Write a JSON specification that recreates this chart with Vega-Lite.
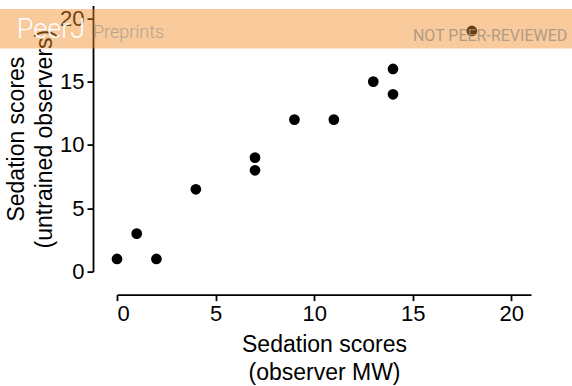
{
  "$schema": "https://vega.github.io/schema/vega-lite/v6.json",
  "width": 414,
  "height": 266,
  "autosize": {"type": "none"},
  "padding": {"left": 117, "top": 5.6, "right": 41, "bottom": 114.4},
  "background": "white",
  "config": {
    "view": {"stroke": null},
    "font": "Liberation Sans",
    "axis": {
      "grid": false,
      "domainColor": "black",
      "domainWidth": 1.8,
      "tickColor": "black",
      "tickWidth": 1.8,
      "tickSize": 6,
      "labelFont": "Liberation Sans",
      "labelFontSize": 22,
      "labelColor": "black",
      "labelPadding": 3,
      "titleFont": "Liberation Sans",
      "titleFontSize": 23,
      "titleFontWeight": "normal",
      "titleColor": "black",
      "titleLineHeight": 28
    }
  },
  "layer": [
    {
      "data": {
        "values": [
          {"observer_mw": 0, "untrained": 1},
          {"observer_mw": 1, "untrained": 3},
          {"observer_mw": 2, "untrained": 1},
          {"observer_mw": 4, "untrained": 6.5},
          {"observer_mw": 7, "untrained": 9},
          {"observer_mw": 7, "untrained": 8},
          {"observer_mw": 9, "untrained": 12},
          {"observer_mw": 11, "untrained": 12},
          {"observer_mw": 13, "untrained": 15},
          {"observer_mw": 14, "untrained": 16},
          {"observer_mw": 14, "untrained": 14},
          {"observer_mw": 18, "untrained": 19}
        ]
      },
      "mark": {"type": "circle", "size": 115, "color": "black", "opacity": 1},
      "encoding": {
        "x": {
          "field": "observer_mw",
          "type": "quantitative",
          "scale": {"domain": [0, 21], "nice": false, "zero": false},
          "axis": {"values": [0, 5, 10, 15, 20], "offset": 23, "title": ["Sedation scores", "(observer MW)"], "titlePadding": 9}
        },
        "y": {
          "field": "untrained",
          "type": "quantitative",
          "scale": {"domain": [0, 21], "nice": false, "zero": false},
          "axis": {"values": [0, 5, 10, 15, 20], "offset": 24, "title": ["Sedation scores", "(untrained observers)"], "titlePadding": 3}
        }
      }
    },
    {
      "data": {"values": [{"label": "banner"}]},
      "mark": {"type": "rect", "color": "#F08A24", "opacity": 0.45, "clip": false},
      "encoding": {
        "x": {"datum": -6},
        "x2": {"datum": 23.3},
        "y": {"datum": 17.62},
        "y2": {"datum": 20.73}
      }
    },
    {
      "data": {"values": [{"label": "PeerJ"}]},
      "mark": {"type": "text", "color": "white", "font": "Roboto", "fontWeight": 300, "fontSize": 27, "align": "left", "baseline": "alphabetic", "clip": false},
      "encoding": {
        "x": {"datum": -5.08},
        "y": {"datum": 18.45},
        "text": {"field": "label"}
      }
    },
    {
      "data": {"values": [{"label": "Preprints"}]},
      "mark": {"type": "text", "color": "#a89a8c", "opacity": 0.8, "font": "Roboto", "fontWeight": 300, "fontSize": 18, "align": "left", "baseline": "alphabetic", "clip": false},
      "encoding": {
        "x": {"datum": -1.22},
        "y": {"datum": 18.45},
        "text": {"field": "label"}
      }
    },
    {
      "data": {"values": [{"label": "NOT PEER-REVIEWED"}]},
      "mark": {"type": "text", "color": "#a09080", "opacity": 0.8, "font": "Roboto", "fontWeight": 400, "fontSize": 16, "align": "right", "baseline": "alphabetic", "clip": false},
      "encoding": {
        "x": {"datum": 22.84},
        "y": {"datum": 18.2},
        "text": {"field": "label"}
      }
    }
  ]
}
